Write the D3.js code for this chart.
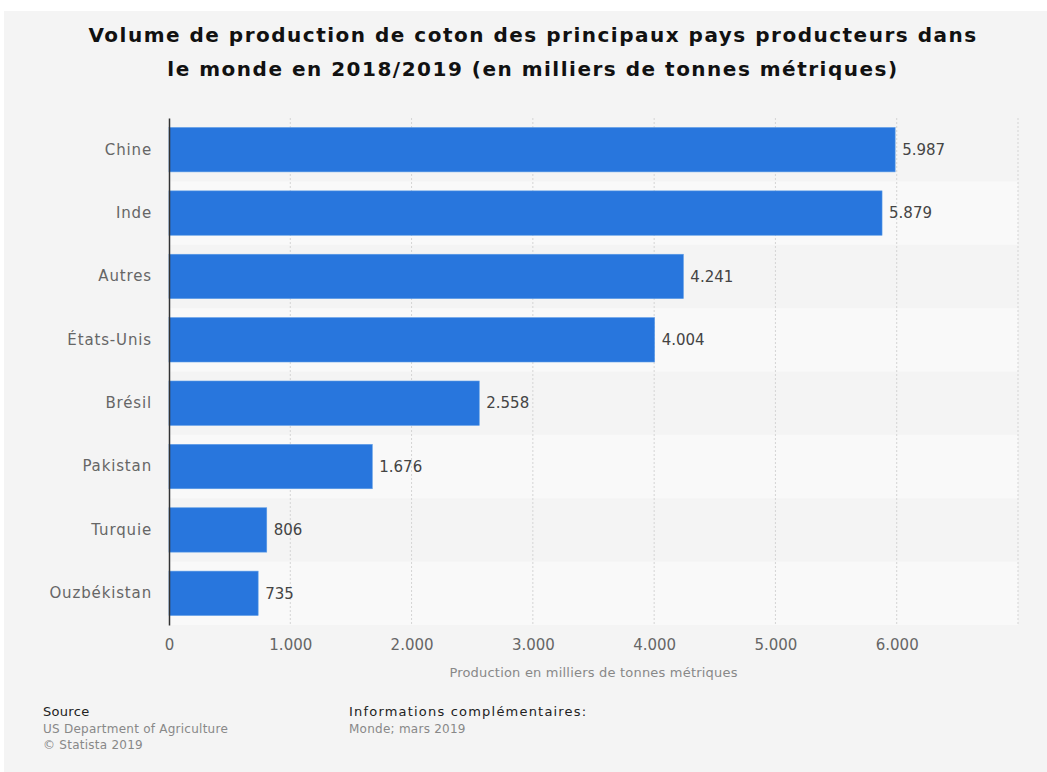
<!DOCTYPE html>
<html>
<head>
<meta charset="utf-8">
<script src="https://cdn.jsdelivr.net/npm/d3@7"></script>
<style>
  body { margin: 0; background: #fff; font-family: "DejaVu Sans", sans-serif; }
</style>
</head>
<body>
<div id="chart"></div>
<script>
// data
let countries = ['Chine', 'Inde', 'Autres', 'États-Unis', 'Brésil', 'Pakistan', 'Turquie', 'Ouzbékistan'];
let production = [5987, 5879, 4241, 4004, 2558, 1676, 806, 735];
let ticks = [0, 1000, 2000, 3000, 4000, 5000, 6000, 7000];
let titleLines = ['Volume de production de coton des principaux pays producteurs dans',
                  'le monde en 2018/2019 (en milliers de tonnes métriques)'];

let config = { svg: {}, plot: {} };
config.svg.width = 1047;
config.svg.height = 772;
config.plot.x = 169;
config.plot.y = 118;
config.plot.width = 1018 - 169;
config.plot.height = 625 - 118;

function translate(x, y) {
  return 'translate(' + x + ',' + y + ')';
}

let fr = d3.formatLocale({ decimal: ',', thousands: '.', grouping: [3], currency: ['', ' €'] });
let fmt = fr.format(',d');

let svg = d3.select('#chart').append('svg')
  .attr('width', config.svg.width)
  .attr('height', config.svg.height);

// grey panel
svg.append('rect')
  .attr('x', 4).attr('y', 11)
  .attr('width', config.svg.width - 4).attr('height', config.svg.height - 11)
  .attr('fill', '#f4f4f4');

// title
svg.append('g').selectAll('text')
  .data(titleLines)
  .enter().append('text')
  .attr('x', 533)
  .attr('y', (d, i) => 42 + i * 34)
  .attr('text-anchor', 'middle')
  .attr('font-size', 20)
  .attr('font-weight', 'bold')
  .attr('letter-spacing', 1.5)
  .attr('fill', '#111')
  .text(d => d);

let x = d3.scaleLinear().domain([0, 7000]).range([0, config.plot.width]);
let y = d3.scaleBand().domain(countries).range([0, config.plot.height]).paddingInner(0.3).paddingOuter(0.15);
let band = d3.scaleBand().domain(countries).range([0, config.plot.height]);

let plot = svg.append('g').attr('transform', translate(config.plot.x, config.plot.y));

// alternating row stripes
plot.selectAll('.stripe')
  .data(countries.filter((d, i) => i % 2 === 1))
  .enter().append('rect')
  .attr('class', 'stripe')
  .attr('x', 0)
  .attr('y', d => band(d))
  .attr('width', config.plot.width)
  .attr('height', band.bandwidth())
  .attr('fill', '#f9f9f9');

// gridlines
plot.selectAll('.grid')
  .data(ticks.slice(1))
  .enter().append('line')
  .attr('x1', d => x(d)).attr('x2', d => x(d))
  .attr('y1', 0).attr('y2', config.plot.height)
  .attr('stroke', '#d4d4d4')
  .attr('stroke-dasharray', '2,2');

// bars
plot.selectAll('.bar')
  .data(production)
  .enter().append('rect')
  .attr('class', 'bar')
  .attr('x', 0)
  .attr('y', (d, i) => y(countries[i]))
  .attr('width', d => x(d))
  .attr('height', y.bandwidth())
  .attr('fill', '#2876dd')
  .attr('stroke', '#5b9be6')
  .attr('stroke-width', 0.6);

// value labels
plot.selectAll('.val')
  .data(production)
  .enter().append('text')
  .attr('x', d => x(d) + 7)
  .attr('y', (d, i) => y(countries[i]) + y.bandwidth() / 2)
  .attr('dy', '0.35em')
  .attr('font-size', 15)
  .attr('fill', '#444')
  .text(d => fmt(d));

// y axis
let yAxis = plot.append('g').call(d3.axisLeft(band).tickSize(0).tickPadding(17));
yAxis.select('.domain').attr('stroke', '#333').attr('stroke-width', 1.5);
yAxis.selectAll('text').attr('font-size', 15).attr('fill', '#666')
  .attr('letter-spacing', 0.85).attr('font-family', '"DejaVu Sans", sans-serif');

// x axis
let xAxis = plot.append('g')
  .attr('transform', translate(0, config.plot.height))
  .call(d3.axisBottom(x).tickValues(ticks.slice(0, 7)).tickFormat(fmt).tickSize(0).tickPadding(14));
xAxis.select('.domain').remove();
xAxis.selectAll('text').attr('font-size', 15).attr('fill', '#666').attr('font-family', '"DejaVu Sans", sans-serif');

svg.append('text')
  .attr('x', config.plot.x + config.plot.width / 2)
  .attr('y', 677)
  .attr('text-anchor', 'middle')
  .attr('font-size', 13)
  .attr('letter-spacing', 0.2)
  .attr('fill', '#888')
  .text('Production en milliers de tonnes métriques');

// footer
let foot = [
  { t: 'Source', x: 43, y: 716, c: '#222', s: 13, ls: 0.3 },
  { t: 'US Department of Agriculture', x: 43, y: 733, c: '#888', s: 12, ls: 0.25 },
  { t: '© Statista 2019', x: 43, y: 749, c: '#888', s: 12, ls: 0.25 },
  { t: 'Informations complémentaires:', x: 349, y: 716, c: '#222', s: 13, ls: 1.2 },
  { t: 'Monde; mars 2019', x: 349, y: 733, c: '#888', s: 12, ls: 0.25 }
];
svg.selectAll('.foot')
  .data(foot)
  .enter().append('text')
  .attr('x', d => d.x).attr('y', d => d.y)
  .attr('font-size', d => d.s)
  .attr('letter-spacing', d => d.ls)
  .attr('fill', d => d.c)
  .text(d => d.t);
</script>
</body>
</html>
